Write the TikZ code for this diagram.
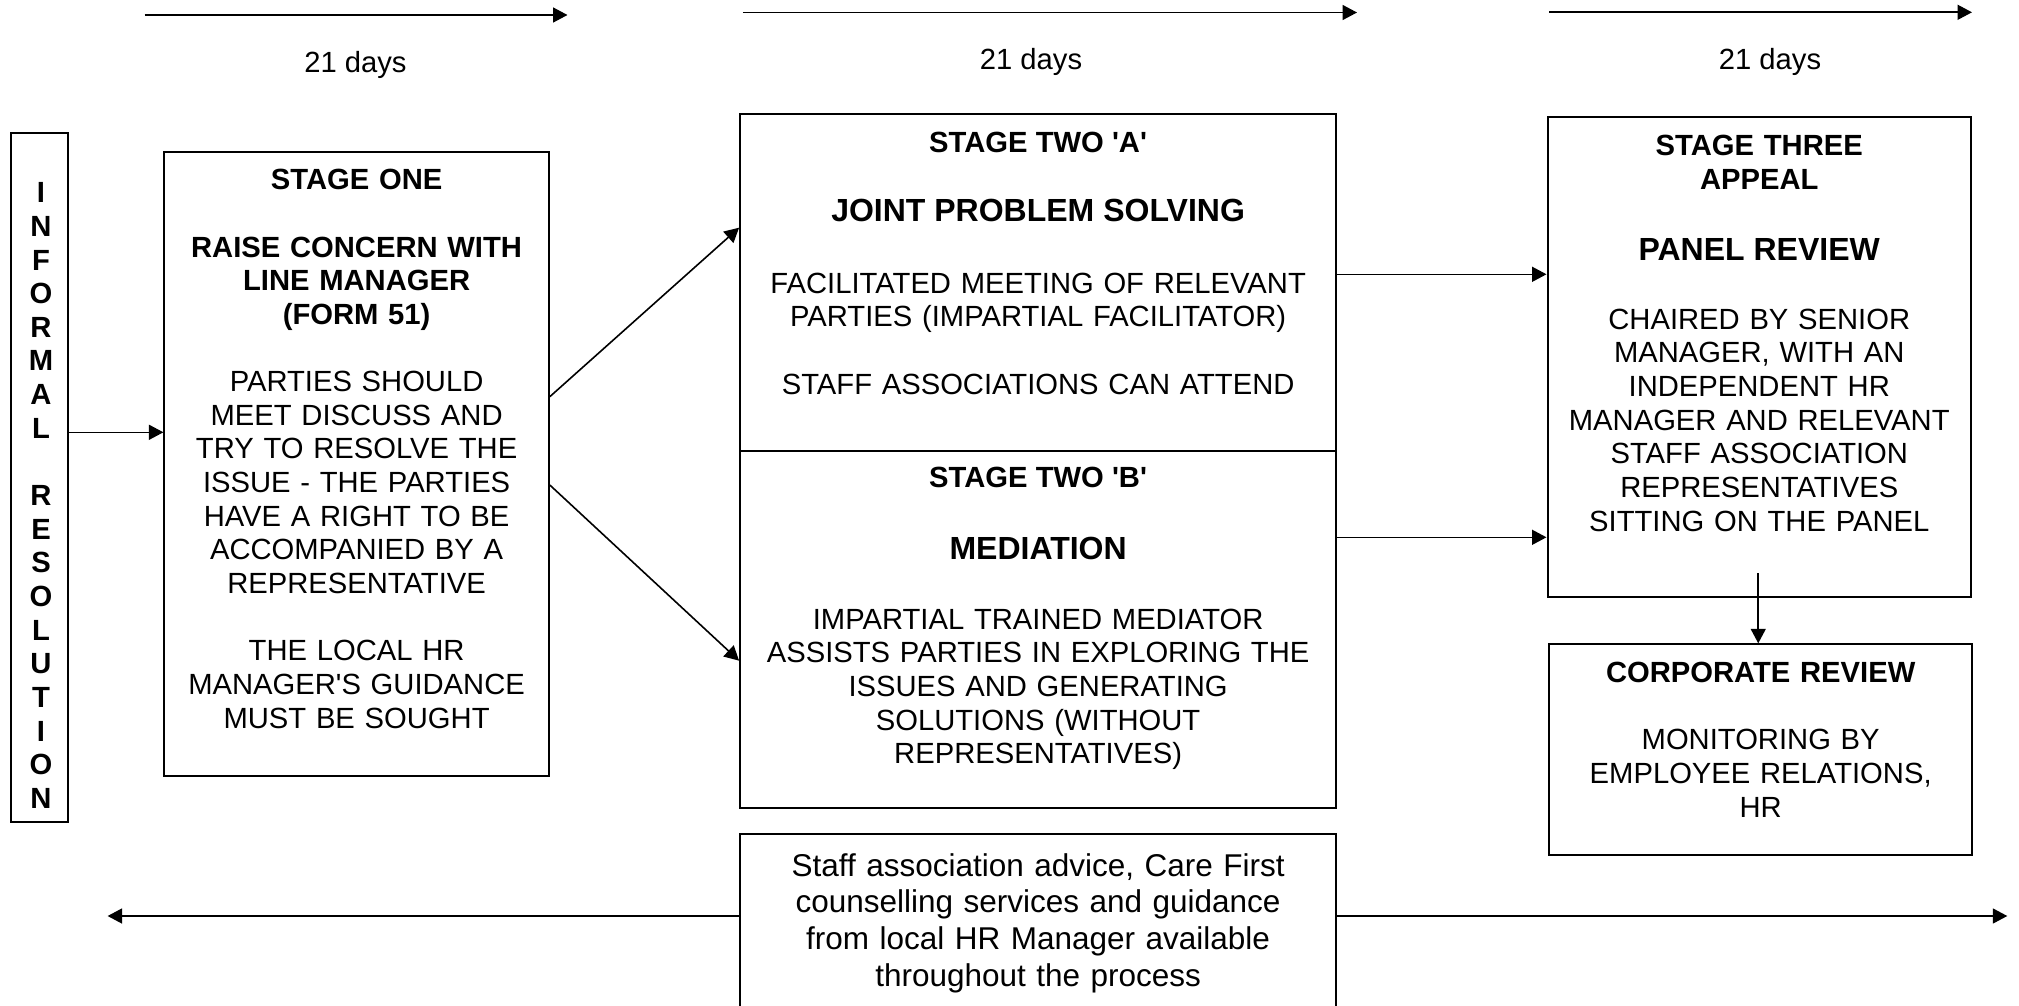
\documentclass[tikz,border=0pt]{standalone}
\usepackage{fontspec}
\setmainfont{Liberation Sans}
\usetikzlibrary{arrows.meta,calc}
\newcommand\fN{\fontsize{14.6pt}{16.82pt}\selectfont}
\newcommand\fH{\fontsize{16pt}{18pt}\selectfont\bfseries}
\newcommand\fBt{\fontsize{15.75pt}{18.35pt}\selectfont}
\newcommand\blankln{\\[16.82pt]}
\newcommand\apos{\textquotesingle}
\begin{document}
\begin{tikzpicture}[x=0.5pt,y=-0.5pt,
  box/.style={draw, line width=1pt, inner sep=0pt},
  txt/.style={inner sep=0pt, anchor=base, align=center, font=\fN},
  arr/.style={line width=0.8pt, -{Triangle[length=7.25pt,width=7.5pt]}}]
\useasboundingbox (0,0) rectangle (2019,1006);
\fill[white] (0,0) rectangle (2019,1006);
\clip (0,0) rectangle (2019,1006);

% boxes
\node[box, minimum width=28.7pt, minimum height=344.5pt] (inf) at (39.7,477.2) {};
\node[box, minimum width=192.2pt, minimum height=312.15pt] (s1) at (356.6,463.85) {};
\node[box, minimum width=298pt, minimum height=168.2pt] (s2a) at (1038.1,282.5) {};
\node[box, minimum width=298pt, minimum height=178.8pt] (s2b) at (1038.1,629.5) {};
\node[box, minimum width=211.75pt, minimum height=240pt] (s3) at (1759.25,356.7) {};
\node[box, minimum width=211.65pt, minimum height=105.35pt] (corp) at (1760.65,749.65) {};
\node[box, minimum width=297.9pt, minimum height=88.85pt] (bot) at (1038.1,923.15) {};

% texts
\node[txt, text width=28pt] (inft) at (41,202.8) {\bfseries I\\N\\F\\O\\R\\M\\A\\L\blankln R\\E\\S\\O\\L\\U\\T\\I\\O\\N};
\node[txt, text width=190pt] (s1t) at (356.6,189.8) {\textbf{STAGE ONE}\blankln
  \textbf{RAISE CONCERN WITH}\\\textbf{LINE MANAGER}\\\textbf{(FORM 51)}\blankln
  PARTIES SHOULD\\MEET DISCUSS AND\\TRY TO RESOLVE THE\\ISSUE - THE PARTIES\\HAVE A RIGHT TO BE\\ACCOMPANIED BY A\\REPRESENTATIVE\blankln
  THE LOCAL HR\\MANAGER\apos S GUIDANCE\\MUST BE SOUGHT};

\node[txt, font=\fN\bfseries] (s2at1) at (1038.1,152.8) {STAGE TWO \apos A\apos};
\node[txt, font=\fH] (s2ah) at (1038.1,221.9) {JOINT PROBLEM SOLVING};
\node[txt, text width=296pt] (s2at2) at (1038.1,293.1) {FACILITATED MEETING OF RELEVANT\\PARTIES (IMPARTIAL FACILITATOR)\blankln STAFF ASSOCIATIONS CAN ATTEND};

\node[txt, font=\fN\bfseries] (s2bt1) at (1038.1,487.8) {STAGE TWO \apos B\apos};
\node[txt, font=\fH] (s2bh) at (1038.1,559.2) {MEDIATION};
\node[txt, text width=296pt] (s2bt2) at (1038.1,629.1) {IMPARTIAL TRAINED MEDIATOR\\ASSISTS PARTIES IN EXPLORING THE\\ISSUES AND GENERATING\\SOLUTIONS (WITHOUT\\REPRESENTATIVES)};

\node[txt, text width=210pt, font=\fN\bfseries] (s3t1) at (1759.25,155.5) {STAGE THREE\\APPEAL};
\node[txt, font=\fH] (s3h) at (1759.25,260.9) {PANEL REVIEW};
\node[txt, text width=210pt] (s3t2) at (1759.25,329.2) {CHAIRED BY SENIOR\\MANAGER, WITH AN\\INDEPENDENT HR\\MANAGER AND RELEVANT\\STAFF ASSOCIATION\\REPRESENTATIVES\\SITTING ON THE PANEL};

\node[txt, text width=210pt] (corpt) at (1760.65,682.5) {\textbf{CORPORATE REVIEW}\blankln MONITORING BY\\EMPLOYEE RELATIONS,\\HR};

\node[txt, text width=296pt, font=\fBt] (bott) at (1038.1,876) {Staff association advice, Care First\\counselling services and guidance\\from local HR Manager available\\throughout the process};

\node[txt] (l1) at (355.4,72.5) {21 days};
\node[txt] (l2) at (1031,69.5) {21 days};
\node[txt] (l3) at (1770,70) {21 days};

% timeline arrows
\coordinate (a1s) at (144.7,15);   \coordinate (a1e) at (567.5,15);
\coordinate (a2s) at (742.8,12.5); \coordinate (a2e) at (1357,12.5);
\coordinate (a3s) at (1549,12.3);  \coordinate (a3e) at (1972,12.3);
\draw[arr] (a1s) -- (a1e);
\draw[arr] (a2s) -- (a2e);
\draw[arr] (a3s) -- (a3e);

% connectors
\draw[arr] ($(inf.east)+(0,-44.9)$) coordinate (p0) -- (p0 -| s1.west);
\draw[arr] ($(s1.east)+(0,-67.15)$) -- ($(s2a.west)+(0,-54.8)$);
\draw[arr] ($(s1.east)+(0,21.15)$) -- ($(s2b.west)+(0,31.2)$);
\draw[arr] ($(s2a.east)+(0,-8.2)$) coordinate (p1) -- (p1 -| s3.west);
\draw[arr] ($(s2b.east)+(0,-92.2)$) coordinate (p2) -- (p2 -| s3.west);
\draw[arr] ($(s3.south)+(-1,-24.4)$) coordinate (p3) -- (p3 |- corp.north);

% availability line
\coordinate (bl) at (107.6,916);
\coordinate (br) at (2007.3,916);
\draw[arr] (bl -| bot.west) -- (bl);
\draw[arr] (br -| bot.east) -- (br);
\end{tikzpicture}
\end{document}
